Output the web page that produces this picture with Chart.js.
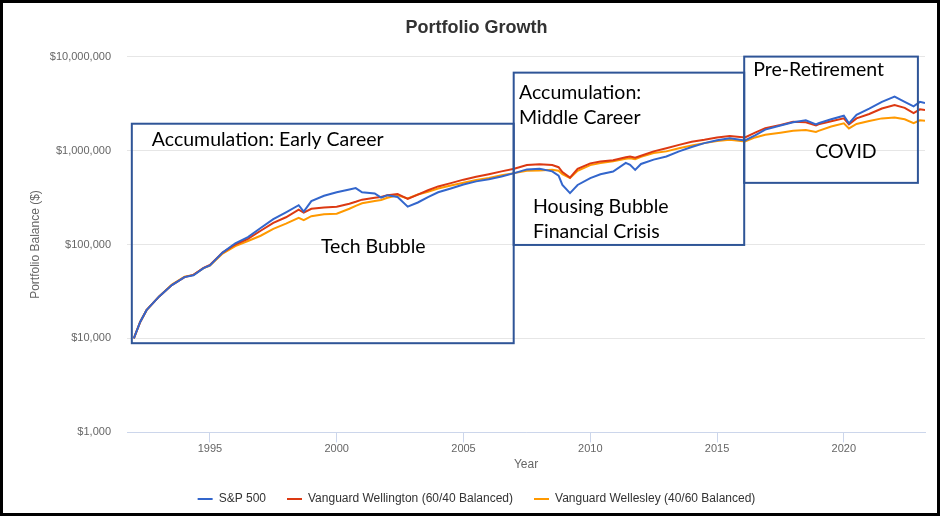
<!DOCTYPE html>
<html>
<head>
<meta charset="utf-8">
<script src="https://cdn.jsdelivr.net/npm/chart.js@4.4.1/dist/chart.umd.min.js"></script>
<style>
  html, body { margin: 0; padding: 0; background: #fff; }
  canvas { display: block; }
</style>
</head>
<body>
<canvas id="growthChart" width="940" height="516"></canvas>
<script>
// ================= DATA =================
const years = [1992.0, 1992.25, 1992.5, 1993.0, 1993.5, 1994.0, 1994.35, 1994.75, 1995.0, 1995.5,
  1996.0, 1996.5, 1997.0, 1997.5, 1998.0, 1998.5, 1998.7, 1999.0, 1999.5, 2000.0,
  2000.5, 2000.75, 2001.0, 2001.5, 2001.75, 2002.0, 2002.4, 2002.8, 2003.2, 2003.6,
  2004.0, 2004.5, 2005.0, 2005.5, 2006.0, 2006.5, 2007.0, 2007.5, 2008.0, 2008.5,
  2008.75, 2008.9, 2009.2, 2009.5, 2010.0, 2010.4, 2010.9, 2011.4, 2011.57, 2011.77,
  2012.0, 2012.5, 2013.0, 2013.5, 2014.0, 2014.5, 2015.0, 2015.5, 2016.1, 2016.5,
  2016.9, 2017.5, 2018.0, 2018.5, 2018.9, 2019.0, 2019.5, 2020.0, 2020.2, 2020.5,
  2021.0, 2021.5, 2022.0, 2022.4, 2022.75, 2023.0, 2023.2];

const sp500 = [10000, 15000, 20000, 28000, 37000, 45000, 47000, 56000, 60000, 82000,
  103000, 120000, 150000, 186000, 220000, 262000, 224000, 290000, 330000, 360000,
  385000, 398000, 360000, 350000, 315000, 335000, 320000, 253000, 280000, 320000,
  360000, 395000, 435000, 470000, 495000, 530000, 575000, 630000, 640000, 600000,
  540000, 430000, 352000, 430000, 508000, 560000, 598000, 740000, 705000, 623000,
  720000, 800000, 865000, 980000, 1090000, 1200000, 1290000, 1350000, 1280000, 1450000,
  1670000, 1850000, 2000000, 2100000, 1900000, 1950000, 2150000, 2350000, 1950000, 2400000,
  2800000, 3300000, 3750000, 3300000, 2950000, 3300000, 3200000];

const wellington = [10000, 15000, 20000, 28000, 37000, 45000, 47500, 56500, 60500, 82000,
  100000, 115000, 140000, 170000, 195000, 235000, 218000, 240000, 248000, 252000,
  272000, 285000, 300000, 315000, 320000, 335000, 345000, 305000, 340000, 378000,
  415000, 450000, 490000, 525000, 560000, 600000, 640000, 700000, 715000, 700000,
  665000, 590000, 515000, 640000, 730000, 765000, 790000, 850000, 865000, 840000,
  880000, 980000, 1060000, 1150000, 1240000, 1300000, 1380000, 1430000, 1380000, 1550000,
  1730000, 1870000, 2020000, 2000000, 1850000, 1900000, 2050000, 2200000, 1900000, 2200000,
  2450000, 2800000, 3050000, 2850000, 2500000, 2750000, 2700000];

const wellesley = [10000, 15000, 20000, 28000, 37500, 45500, 47500, 56000, 59500, 80000,
  96000, 109000, 124000, 147000, 167000, 192000, 182000, 200000, 210000, 213000,
  240000, 258000, 275000, 290000, 298000, 315000, 335000, 310000, 340000, 365000,
  395000, 425000, 455000, 485000, 510000, 545000, 575000, 610000, 615000, 625000,
  610000, 560000, 510000, 610000, 700000, 735000, 770000, 820000, 830000, 810000,
  860000, 940000, 980000, 1060000, 1130000, 1200000, 1260000, 1300000, 1250000, 1380000,
  1470000, 1550000, 1620000, 1650000, 1580000, 1620000, 1800000, 1950000, 1720000, 1920000,
  2060000, 2200000, 2250000, 2150000, 1960000, 2100000, 2080000];

const yearTicks = [1995, 2000, 2005, 2010, 2015, 2020];
const balanceTicks = [1000, 10000, 100000, 1000000, 10000000];

// life phases (in year / balance units)
const phaseBoxes = [
  { from: 1991.92, to: 2006.98, low: 8900, high: 1930000 },
  { from: 2006.98, to: 2016.07, low: 98900, high: 6750000 },
  { from: 2016.07, to: 2022.92, low: 453000, high: 10000000 }
];
const phaseNotes = [
  { text: "Accumulation: Early Career", year: 1992.71, value: 1120000 },
  { text: "Accumulation:", year: 2007.19, value: 3570000 },
  { text: "Middle Career", year: 2007.19, value: 1930000 },
  { text: "Housing Bubble", year: 2007.74, value: 217000 },
  { text: "Financial Crisis", year: 2007.74, value: 117000 },
  { text: "Pre-Retirement", year: 2016.43, value: 6270000 },
  { text: "COVID", year: 2018.87, value: 837000 },
  { text: "Tech Bubble", year: 1999.38, value: 81100 }
];

const toPoints = vals => years.map((yr, i) => ({ x: yr, y: vals[i] }));

Chart.defaults.font.family = '"Liberation Sans", Arial, sans-serif';

// ================= PLUGINS =================
const phasePlugin = {
  id: "phases",
  afterDatasetsDraw(chart) {
    const { ctx, scales: { x, y } } = chart;
    ctx.save();
    ctx.strokeStyle = "#2f5597";
    ctx.lineWidth = 2;
    phaseBoxes.forEach(b => {
      const l = x.getPixelForValue(b.from), r = x.getPixelForValue(b.to);
      const t = y.getPixelForValue(b.high), btm = y.getPixelForValue(b.low);
      ctx.strokeRect(l, t, r - l, btm - t);
    });
    ctx.fillStyle = "#000";
    ctx.font = '19.5px Lato, "Open Sans", sans-serif';
    ctx.textAlign = "left";
    ctx.textBaseline = "alphabetic";
    phaseNotes.forEach(n => {
      ctx.fillText(n.text, x.getPixelForValue(n.year), y.getPixelForValue(n.value));
    });
    ctx.restore();
  },
  afterDraw(chart) {
    const { ctx, width, height } = chart;
    ctx.save();
    ctx.strokeStyle = "#000";
    ctx.lineWidth = 3;
    ctx.strokeRect(1.5, 1.5, width - 3, height - 3);
    ctx.restore();
  }
};

// ================= CHART =================
const ctx = document.getElementById("growthChart").getContext("2d");
new Chart(ctx, {
  type: "line",
  data: {
    datasets: [
      { label: "S&P 500", data: toPoints(sp500), borderColor: "#3366cc", backgroundColor: "#3366cc" },
      { label: "Vanguard Wellington (60/40 Balanced)", data: toPoints(wellington), borderColor: "#dc3912", backgroundColor: "#dc3912" },
      { label: "Vanguard Wellesley (40/60 Balanced)", data: toPoints(wellesley), borderColor: "#ff9900", backgroundColor: "#ff9900" }
    ]
  },
  options: {
    responsive: false,
    animation: false,
    devicePixelRatio: 1,
    datasets: { line: { borderWidth: 2, pointRadius: 0, tension: 0 } },
    layout: { padding: { left: 28, right: 15, top: 17, bottom: 1 } },
    plugins: {
      title: {
        display: true,
        text: "Portfolio Growth",
        color: "#333333",
        font: { size: 18, weight: "bold" },
        padding: { top: 0, bottom: 18 }
      },
      legend: {
        position: "bottom",
        labels: {
          usePointStyle: true,
          pointStyle: "line",
          pointStyleWidth: 15,
          boxWidth: 15,
          padding: 21,
          color: "#333333",
          font: { size: 12 }
        }
      },
      tooltip: { enabled: false }
    },
    scales: {
      x: {
        type: "linear",
        min: 1991.73,
        max: 2023.2,
        afterBuildTicks: s => { s.ticks = yearTicks.map(v => ({ value: v })); },
        grid: { drawOnChartArea: false, drawTicks: true, tickLength: 10, color: "#ccd6eb" },
        border: { color: "#ccd6eb" },
        ticks: { padding: 0, color: "#666666", font: { size: 11 }, maxRotation: 0, callback: v => String(v) },
        title: { display: true, text: "Year", color: "#666666", font: { size: 12 }, padding: { top: 2, bottom: 0 } }
      },
      y: {
        type: "logarithmic",
        min: 1000,
        max: 10000000,
        afterBuildTicks: s => { s.ticks = balanceTicks.map(v => ({ value: v })); },
        afterFit: s => { s.width = 99; },
        grid: { color: "#e6e6e6", drawTicks: false },
        border: { display: false },
        ticks: { padding: 16, color: "#666666", font: { size: 11 }, callback: v => "$" + Number(v).toLocaleString("en-US") },
        title: { display: true, text: "Portfolio Balance ($)", color: "#666666", font: { size: 12 }, padding: 0 }
      }
    }
  },
  plugins: [phasePlugin]
});
</script>
</body>
</html>
